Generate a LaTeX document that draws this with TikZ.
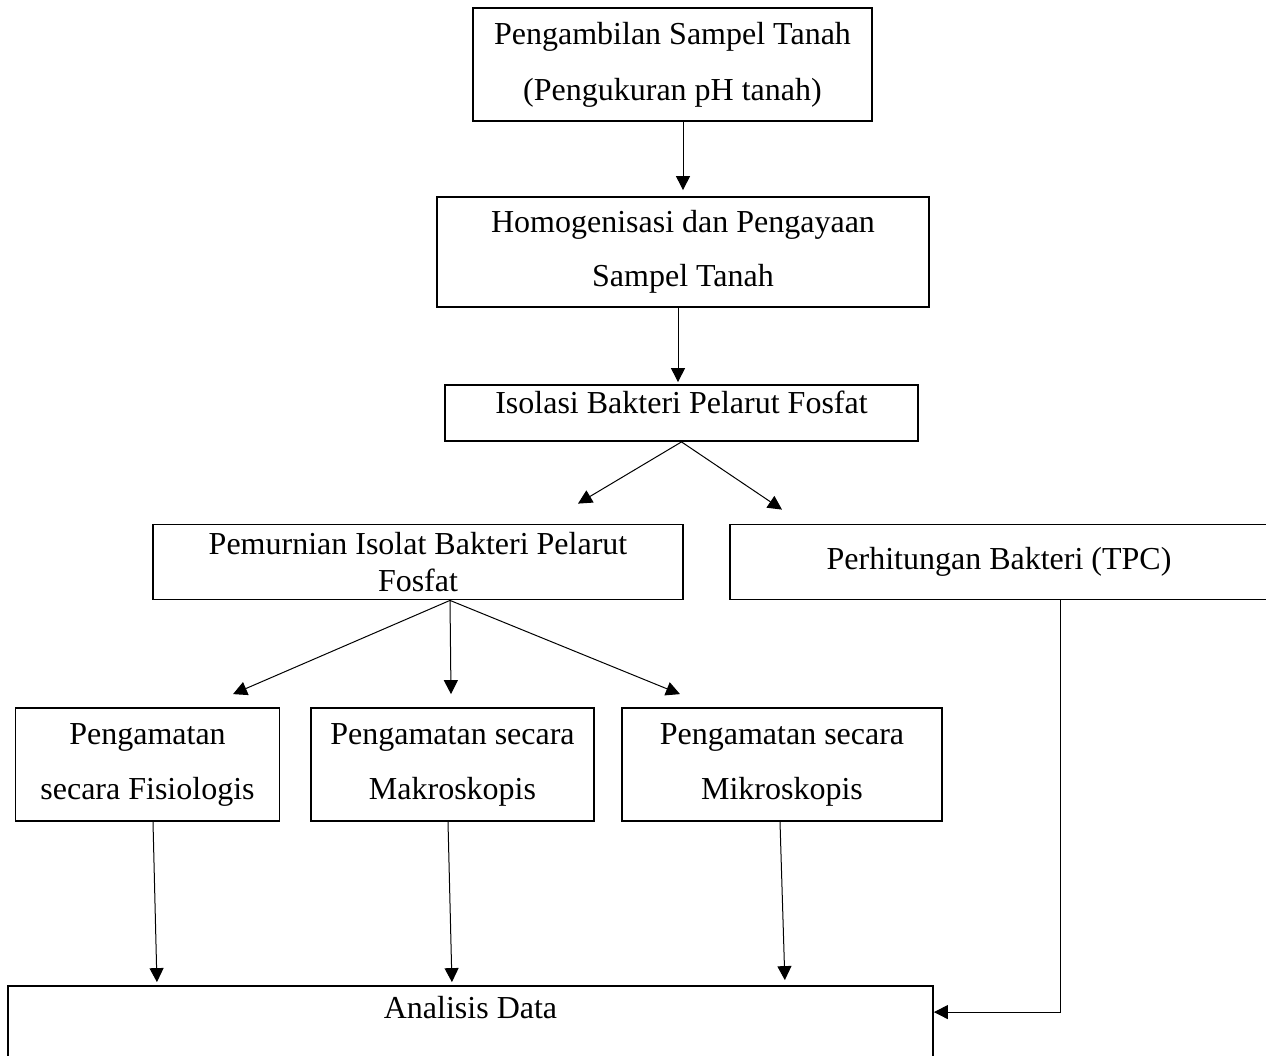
\documentclass[tikz,border=0pt]{standalone}
\usepackage{fontspec}
\setmainfont{Liberation Serif}
\usetikzlibrary{arrows.meta,calc}
\tikzset{
	kotak/.style={draw, line width=1.8pt, align=center, inner sep=0pt, font=\fontsize{32}{55}\selectfont},
	panah/.style={line width=1pt, -{Triangle[length=14pt,width=14pt]}},
}
\begin{document}
\begin{tikzpicture}[x=1pt, y=-1pt]
	\useasboundingbox (0,0) rectangle (1266,1055);
	\clip (0,0) rectangle (1266,1055);
	% kotak-kotak alur
	\node[kotak, minimum width=399pt, minimum height=113pt, font=\fontsize{32}{56}\selectfont] (sampel) at (672.5,64.5) {Pengambilan Sampel Tanah\\(Pengukuran pH tanah)};
	\node[kotak, minimum width=492pt, minimum height=110pt, font=\fontsize{32}{54}\selectfont] (homogen) at (683,252) {Homogenisasi dan Pengayaan\\Sampel Tanah};
	\node[kotak, minimum width=473pt, minimum height=56pt, text depth=22pt] (isolasi) at (681.5,413) {Isolasi Bakteri Pelarut Fosfat};
	\node[kotak, minimum width=530pt, minimum height=75pt, font=\fontsize{32}{37}\selectfont] (pemurnian) at (418,562) {Pemurnian Isolat Bakteri Pelarut\\Fosfat};
	\node[kotak, minimum width=538pt, minimum height=75pt] (tpc) at (999,562) {Perhitungan Bakteri (TPC)};
	\node[kotak, minimum width=264pt, minimum height=113pt] (fisiologis) at (147.5,764.5) {Pengamatan\\secara Fisiologis};
	\node[kotak, minimum width=283pt, minimum height=113pt] (makro) at (452.5,764.5) {Pengamatan secara\\Makroskopis};
	\node[kotak, minimum width=320pt, minimum height=113pt] (mikro) at (782,764.5) {Pengamatan secara\\Mikroskopis};
	\node[kotak, minimum width=925pt, minimum height=100pt, text depth=58pt] (analisis) at (470.5,1036) {Analisis Data};
	% panah
	\draw[panah, shorten >=6pt] (sampel.south -| homogen.north) -- (homogen.north);
	\draw[panah, shorten >=2pt] ([xshift=-5pt]homogen.south) -- ([xshift=-3.5pt]isolasi.north);
	\draw[panah] (isolasi.south) -- ([shift={(160pt,20pt)}]pemurnian.north);
	\draw[panah] (isolasi.south) -- ([shift={(-217pt,14pt)}]tpc.north);
	\draw[panah] ([xshift=32pt]pemurnian.south) -- ([shift={(85.5pt,13pt)}]fisiologis.north);
	\draw[panah] ([xshift=32pt]pemurnian.south) -- ([shift={(-1.5pt,13pt)}]makro.north);
	\draw[panah] ([xshift=32pt]pemurnian.south) -- ([shift={(-102pt,13pt)}]mikro.north);
	\draw[panah, shorten >=3pt] ([xshift=5.5pt]fisiologis.south) -- ([xshift=9.5pt]fisiologis.south |- analisis.north);
	\draw[panah, shorten >=3pt] ([xshift=-4.5pt]makro.south) -- ([xshift=-0.5pt]makro.south |- analisis.north);
	\draw[panah, shorten >=5pt] ([xshift=-2pt]mikro.south) -- ([xshift=3pt]mikro.south |- analisis.north);
	\draw[panah] ([xshift=61pt]tpc.south) |- ([yshift=-27pt]analisis.north east);
\end{tikzpicture}
\end{document}
